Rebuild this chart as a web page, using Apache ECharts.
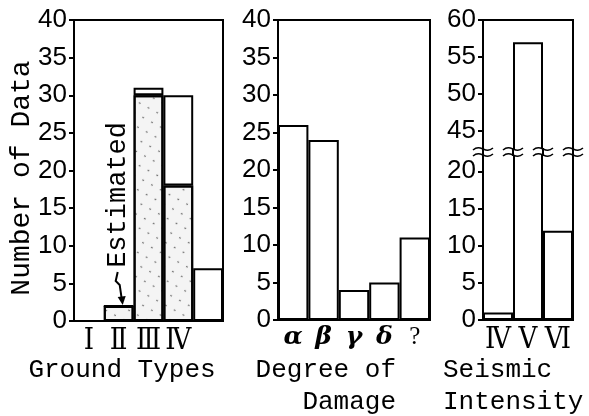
<!DOCTYPE html>
<html>
<head>
<meta charset="utf-8">
<script src="https://cdn.jsdelivr.net/npm/echarts@6/dist/echarts.min.js"></script>
<style>
html,body{margin:0;padding:0;background:#fff;}
#chart{width:589px;height:416px;}
</style>
</head>
<body>
<div id="chart"></div>
<script>
// ---- data ----
const groundTypes = ['Ⅰ', 'Ⅱ', 'Ⅲ', 'Ⅳ', ''];
const groundEstimated = [0, 2, 30, 18, 0];   // stippled (estimated) part
const groundTotal = [0, 2, 31, 30, 7];       // full bar height
const damageDegrees = ['α', 'β', 'γ', 'δ', '?'];
const damageCounts = [26, 24, 4, 5, 11];
const intensities = ['Ⅳ', 'Ⅴ', 'Ⅵ'];
const intensityCounts = [1, 57, 12];
const upperTicks = [45, 50, 55, 60];
const lowerTicks = [0, 5, 10, 15, 20];
const breakLow = 22.6, breakHigh = 42.2;

const groundRest = groundTotal.map((t, i) => t - groundEstimated[i]);

const BLACK = '#000';
const tickFont = { fontFamily: 'Liberation Sans', fontSize: 26, color: BLACK };
const lineStyle = { color: BLACK, width: 2 };
const romanLabel = { margin: 6, fontFamily: "'DejaVu Serif Condensed', 'DejaVu Serif'", fontSize: 29, color: BLACK, interval: 0 };

function yAxisBase(extra) {
  return Object.assign({
    type: 'value',
    axisLine: { show: true, lineStyle },
    axisTick: { show: true, inside: false, length: 5, lineStyle },
    axisLabel: Object.assign({ margin: 7 }, tickFont),
    splitLine: { show: false }
  }, extra);
}
function xAxisBase(extra) {
  return Object.assign({
    type: 'category',
    axisLine: { show: true, lineStyle },
    axisTick: { show: false },
    splitLine: { show: false }
  }, extra);
}
const frame = { show: true, borderColor: BLACK, borderWidth: 2, backgroundColor: 'transparent' };
const barStyle = { color: '#fff', borderColor: BLACK, borderWidth: 2 };
const stippleStyle = {
  color: '#f4f4f4', borderColor: BLACK, borderWidth: 2,
  decal: { symbol: 'circle', symbolSize: 0.55, color: 'rgba(0,0,0,0.7)', dashArrayX: [4, 6], dashArrayY: [3, 8], rotation: 0.5 }
};

const chart = echarts.init(document.getElementById('chart'), null, { renderer: 'canvas' });
chart.setOption({
  animation: false,
  backgroundColor: '#fff',
  grid: [
    Object.assign({ left: 74, top: 20, width: 149, height: 301 }, frame),
    Object.assign({ left: 278, top: 20, width: 152, height: 300 }, frame),
    { left: 483, top: 20, width: 90, height: 132, show: false },
    { left: 483, top: 152, width: 90, height: 168, show: false },
    Object.assign({ left: 483, top: 20, width: 90, height: 300 }, frame)
  ],
  xAxis: [
    xAxisBase({ gridIndex: 0, data: groundTypes, axisLabel: romanLabel }),
    xAxisBase({ gridIndex: 1, data: damageDegrees,
      axisLabel: {
        margin: 5, interval: 0,
        formatter: v => v === '?' ? '{q|?}' : '{g|' + v + '}',
        rich: {
          g: { fontFamily: 'DejaVu Serif', fontStyle: 'italic', fontWeight: 'bold', fontSize: 25, color: BLACK },
          q: { fontFamily: 'Liberation Serif', fontSize: 25, color: BLACK }
        }
      } }),
    xAxisBase({ gridIndex: 2, data: intensities, show: false }),
    xAxisBase({ gridIndex: 3, data: intensities, axisLabel: romanLabel })
  ],
  yAxis: [
    yAxisBase({ gridIndex: 0, min: 0, max: 40, interval: 5 }),
    yAxisBase({ gridIndex: 1, min: 0, max: 40, interval: 5 }),
    yAxisBase({ gridIndex: 2, min: breakHigh, max: 60,
      axisTick: { show: true, inside: false, length: 5, lineStyle, customValues: upperTicks },
      axisLabel: Object.assign({ margin: 7, customValues: upperTicks }, tickFont) }),
    yAxisBase({ gridIndex: 3, min: 0, max: breakLow,
      axisTick: { show: true, inside: false, length: 5, lineStyle, customValues: lowerTicks },
      axisLabel: Object.assign({ margin: 7, customValues: lowerTicks }, tickFont) })
  ],
  series: [
    { type: 'bar', xAxisIndex: 0, yAxisIndex: 0, stack: 'g', data: groundEstimated, barCategoryGap: '0%', itemStyle: stippleStyle },
    { type: 'bar', xAxisIndex: 0, yAxisIndex: 0, stack: 'g', data: groundRest, barCategoryGap: '0%', itemStyle: barStyle },
    { type: 'bar', xAxisIndex: 1, yAxisIndex: 1, data: damageCounts, barCategoryGap: '0%', itemStyle: barStyle },
    { type: 'bar', xAxisIndex: 2, yAxisIndex: 2, data: intensityCounts, barCategoryGap: '0%', clip: true, itemStyle: barStyle },
    { type: 'bar', xAxisIndex: 3, yAxisIndex: 3, data: intensityCounts, barCategoryGap: '0%', clip: true, itemStyle: barStyle }
  ]
});

// ---- annotations, positioned from the library's scales ----
const g = [];
const mono = 'Liberation Mono';
function txt(text, x, y, opts) {
  g.push(Object.assign({
    type: 'text', x, y, silent: true,
    style: Object.assign({ text, fill: BLACK, font: '26px "' + mono + '"', textAlign: 'left', textVerticalAlign: 'middle' }, opts || {})
  }));
}
// axis titles
const gy0 = chart.convertToPixel({ yAxisIndex: 0 }, 19);
g.push({ type: 'text', x: 22, y: gy0, rotation: Math.PI / 2, silent: true,
  style: { text: 'Number of Data', fill: BLACK, font: '28px "' + mono + '"', textAlign: 'center', textVerticalAlign: 'middle' } });
txt('Ground Types', 122, 370, { textAlign: 'center' });
txt('Degree of', 396, 370, { textAlign: 'right' });
txt('Damage', 396, 402, { textAlign: 'right' });
txt('Seismic', 443, 370);
txt('Intensity', 443, 402);

// "Estimated" note with arrow pointing to the Ⅱ bar
const p2 = chart.convertToPixel({ xAxisIndex: 0, yAxisIndex: 0 }, [1, groundEstimated[1]]);
g.push({ type: 'text', x: p2[0] - 1, y: p2[1] - 111, rotation: Math.PI / 2, silent: true,
  style: { text: 'Estimated', fill: BLACK, font: '27px "' + mono + '"', textAlign: 'center', textVerticalAlign: 'middle' } });
const ax = p2[0], ay = p2[1];
g.push({ type: 'polyline', silent: true,
  shape: { points: [[ax - 1, ay - 34], [ax - 3, ay - 25], [ax + 1, ay - 21], [ax + 3, ay - 7]] },
  style: { stroke: BLACK, lineWidth: 2, fill: null } });
g.push({ type: 'polygon', silent: true,
  shape: { points: [[ax - 1, ay - 9], [ax + 7, ay - 10], [ax + 4, ay - 1]] },
  style: { fill: BLACK } });

// axis break marks on panel 3
const yb = chart.convertToPixel({ yAxisIndex: 3 }, breakLow);
const c0 = chart.convertToPixel({ xAxisIndex: 3 }, 0);
const c1 = chart.convertToPixel({ xAxisIndex: 3 }, 1);
const band = c1 - c0;
const xs = [];
for (let i = 0; i <= intensities.length; i++) xs.push(c0 - band / 2 + i * band);
g.push({ type: 'rect', silent: true, z: 50,
  shape: { x: xs[0] - 12, y: yb - 3, width: xs[xs.length - 1] - xs[0] + 24, height: 6 },
  style: { fill: '#fff' } });
xs.forEach(x => {
  g.push({ type: 'line', silent: true, z: 51, shape: { x1: x, y1: yb - 4, x2: x, y2: yb + 4 }, style: { stroke: BLACK, lineWidth: 2 } });
  [-3, 3].forEach(dy => {
    g.push({ type: 'bezierCurve', silent: true, z: 52,
      shape: { x1: x - 10, y1: yb + dy + 1, x2: x + 10, y2: yb + dy - 1, cpx1: x - 2, cpy1: yb + dy - 6, cpx2: x + 2, cpy2: yb + dy + 6 },
      style: { stroke: BLACK, lineWidth: 1.5, fill: null } });
  });
});
chart.setOption({ graphic: g });
</script>
</body>
</html>
